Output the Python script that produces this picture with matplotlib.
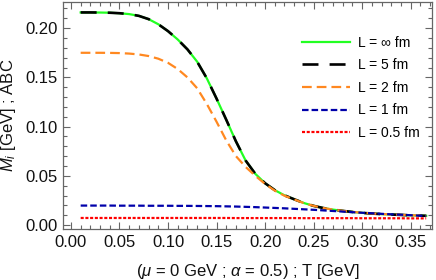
import matplotlib
matplotlib.use("Agg")
import matplotlib.pyplot as plt
from matplotlib.ticker import MultipleLocator, FormatStrFormatter

plt.rcParams['font.family'] = ['Liberation Sans', 'DejaVu Sans']
plt.rcParams['mathtext.fontset'] = 'custom'
plt.rcParams['mathtext.rm'] = 'Liberation Sans'
plt.rcParams['mathtext.it'] = 'Liberation Sans:italic'
plt.rcParams['mathtext.bf'] = 'Liberation Sans:bold'
plt.rcParams['lines.scale_dashes'] = False

T = [0.01, 0.02, 0.03, 0.04, 0.05, 0.06, 0.07, 0.08, 0.09, 0.10,
     0.11, 0.12, 0.13, 0.14, 0.15, 0.16, 0.17, 0.18, 0.19, 0.20,
     0.21, 0.22, 0.23, 0.24, 0.25, 0.26, 0.27, 0.28, 0.29, 0.30,
     0.31, 0.32, 0.33, 0.34, 0.35, 0.36, 0.366]

M_inf = [0.2160, 0.2160, 0.2159, 0.2157, 0.2152, 0.2143, 0.2125, 0.2092, 0.2040, 0.1970,
         0.1885, 0.1785, 0.1660, 0.1490, 0.1285, 0.1070, 0.0850, 0.0655, 0.0520, 0.0425,
         0.0355, 0.0302, 0.0262, 0.0224, 0.0195, 0.0173, 0.0157, 0.0144, 0.0133, 0.0124,
         0.0117, 0.0111, 0.0107, 0.0103, 0.0099, 0.0096, 0.0094]

M_5 = list(M_inf)

M_2 = [0.1750, 0.1750, 0.1750, 0.1749, 0.1747, 0.1742, 0.1733, 0.1717, 0.1690, 0.1648,
       0.1585, 0.1500, 0.1390, 0.1230, 0.1050, 0.0860, 0.0700, 0.0590, 0.0500, 0.0418,
       0.0350, 0.0298, 0.0260, 0.0223, 0.0195, 0.0173, 0.0157, 0.0144, 0.0134, 0.0125,
       0.0118, 0.0112, 0.0108, 0.0104, 0.0100, 0.0097, 0.0095]

M_1 = [0.0198, 0.0198, 0.0198, 0.0198, 0.0197, 0.0197, 0.0197, 0.0196, 0.0196, 0.0196,
       0.0195, 0.0195, 0.0194, 0.0193, 0.0192, 0.0190, 0.0188, 0.0185, 0.0182, 0.0178,
       0.0174, 0.0170, 0.0165, 0.0160, 0.0155, 0.0149, 0.0143, 0.0137, 0.0131, 0.0125,
       0.0120, 0.0114, 0.0109, 0.0105, 0.0100, 0.0095, 0.0093]

M_05 = [0.0072, 0.0072, 0.0072, 0.0072, 0.0072, 0.0072, 0.0072, 0.0072, 0.0072, 0.0072,
        0.0072, 0.0072, 0.0072, 0.0072, 0.0072, 0.0072, 0.0071, 0.0071, 0.0071, 0.0071,
        0.0071, 0.0071, 0.0071, 0.0070, 0.0070, 0.0070, 0.0070, 0.0070, 0.0070, 0.0069,
        0.0069, 0.0069, 0.0069, 0.0069, 0.0068, 0.0068, 0.0068]

labels = ["L = \u221e fm", "L = 5 fm", "L = 2 fm", "L = 1 fm", "L = 0.5 fm"]

fig = plt.figure(figsize=(4.36, 2.80), dpi=100)
ax = fig.add_axes([63/436, 1 - 229/280, (432 - 63)/436, (229 - 2)/280])

ax.plot(T, M_inf, color='#22ff22', lw=1.6, label=labels[0])
ax.plot(T, M_5, color='black', lw=1.9, dashes=(11.5, 8), label=labels[1])
ax.plot(T, M_2, color='#ff8820', lw=1.6, dashes=(7, 3.6), label=labels[2])
ax.plot(T, M_1, color='#0000aa', lw=1.6, dashes=(4.7, 2.2), label=labels[3])
ax.plot(T, M_05, color='#ff0000', lw=1.6, dashes=(2.2, 1.2), label=labels[4])

ax.set_xlim(-0.0082, 0.372)
ax.set_ylim(-0.004, 0.2266)

ax.xaxis.set_major_locator(MultipleLocator(0.05))
ax.xaxis.set_minor_locator(MultipleLocator(0.01))
ax.yaxis.set_major_locator(MultipleLocator(0.05))
ax.yaxis.set_minor_locator(MultipleLocator(0.01))
ax.xaxis.set_major_formatter(FormatStrFormatter('%.2f'))
ax.yaxis.set_major_formatter(FormatStrFormatter('%.2f'))

spine_col = '#666666'
for s in ax.spines.values():
    s.set_color(spine_col)
    s.set_linewidth(0.9)
ax.tick_params(which='both', direction='in', top=True, right=True, color=spine_col,
               labelsize=12, labelcolor='#111111', width=0.8)
ax.tick_params(which='major', length=5, pad=4)
ax.tick_params(which='minor', length=2.8)

ax.set_xlabel("($\\mu$ = 0 GeV ; $\\alpha$ = 0.5) ; T [GeV]", fontsize=12, color='#111111', labelpad=9)
ax.set_ylabel("$M_i$ [GeV] ; ABC", fontsize=12, color='#111111', labelpad=5)

leg = ax.legend(loc='upper left', bbox_to_anchor=(0.648, 0.852), frameon=False,
                fontsize=10, handlelength=3.45, handletextpad=0.6, labelspacing=0.62,
                borderpad=0, borderaxespad=0)

fig.savefig("out.png", dpi=100)
